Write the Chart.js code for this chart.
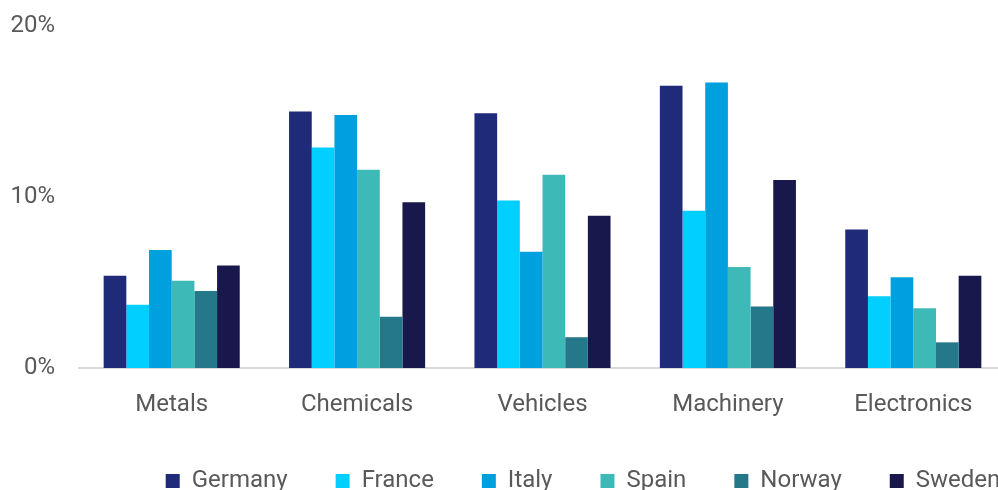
<!DOCTYPE html>
<html>
<head>
<meta charset="utf-8">
<script src="https://cdn.jsdelivr.net/npm/chart.js@4.4.1/dist/chart.umd.min.js"></script>
<style>
  html, body { margin: 0; padding: 0; background: #fff; overflow: hidden; width: 998px; height: 490px; }
  canvas { display: block; }
</style>
</head>
<body>
<canvas id="chart" width="1008" height="503"></canvas>
<script>
// export share by sector (%)
const categories = ['Metals', 'Chemicals', 'Vehicles', 'Machinery', 'Electronics'];
const germany = [5.4, 15.0, 14.9, 16.5, 8.1];
const france  = [3.7, 12.9, 9.8, 9.2, 4.2];
const italy   = [6.9, 14.8, 6.8, 16.7, 5.3];
const spain   = [5.1, 11.6, 11.3, 5.9, 3.5];
const norway  = [4.5, 3.0, 1.8, 3.6, 1.5];
const sweden  = [6.0, 9.7, 8.9, 11.0, 5.4];

const textColor = '#595959';
const font = { family: 'Roboto', size: 24 };

// legend sits off-centre in the original, nudge it right
const legendShift = {
    id: 'legendShift',
    afterLayout(chart, args, opts) {
        const legend = chart.legend;
        if (!legend) return;
        legend.left += opts.offset;
        legend.right += opts.offset;
    }
};

const series = [
    { label: 'Germany', data: germany, backgroundColor: '#1F2A78' },
    { label: 'France',  data: france,  backgroundColor: '#00CFFF' },
    { label: 'Italy',   data: italy,   backgroundColor: '#00A0DF' },
    { label: 'Spain',   data: spain,   backgroundColor: '#3DB9B8' },
    { label: 'Norway',  data: norway,  backgroundColor: '#25778A' },
    { label: 'Sweden',  data: sweden,  backgroundColor: '#18184C' },
];

new Chart(document.getElementById('chart'), {
    type: 'bar',
    data: {
        labels: categories,
        datasets: series.map(s => ({
            ...s,
            borderWidth: 0,
            barPercentage: 1,
            categoryPercentage: 0.734,
        })),
    },
    options: {
        responsive: false,
        animation: false,
        devicePixelRatio: 1,
        layout: { padding: { top: 26, left: 0, right: 2, bottom: 0 } },
        scales: {
            x: {
                grid: { display: false },
                border: { display: true, color: '#D9D9D9', width: 2 },
                ticks: { color: textColor, font, padding: 15, maxRotation: 0 },
                afterFit: (scale) => { scale.height = 53; },
            },
            y: {
                min: 0,
                max: 20,
                grid: { display: false, drawTicks: false },
                border: { display: false },
                ticks: {
                    stepSize: 10,
                    color: textColor,
                    font,
                    padding: 24,
                    callback: (v) => v + '%',
                },
                afterFit: (scale) => {
                    scale.width = 79;
                    scale.paddingTop = 0;
                    scale.paddingBottom = 0;
                },
            },
        },
        plugins: {
            legend: {
                position: 'bottom',
                labels: {
                    color: textColor,
                    font,
                    boxWidth: 14,
                    boxHeight: 14,
                    padding: 48,
                },
            },
            legendShift: { offset: 80 },
            tooltip: { enabled: false },
        },
    },
    plugins: [legendShift],
});
</script>
</body>
</html>
